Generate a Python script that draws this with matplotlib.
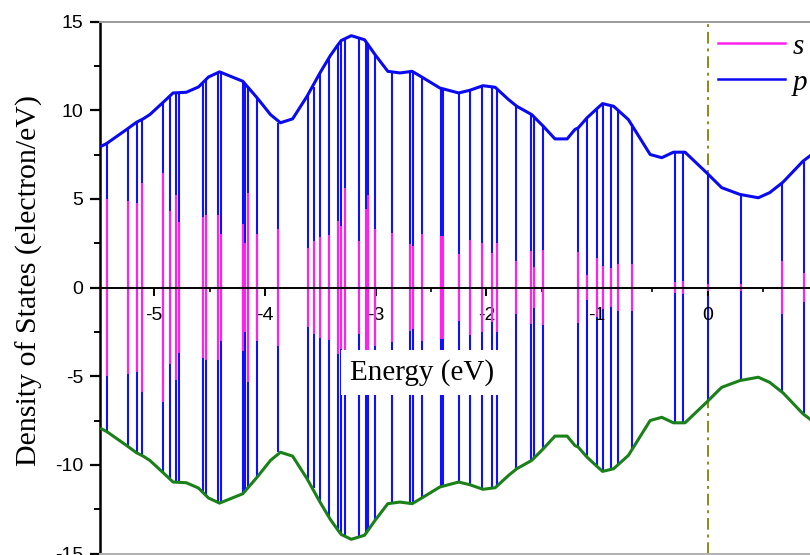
import matplotlib
matplotlib.use("Agg")

import numpy as np
import matplotlib.pyplot as plt
from matplotlib.ticker import MultipleLocator, FixedLocator
from matplotlib.lines import Line2D

# Smoothed p envelope (upper); the lower curve is its mirror
env_e = [-5.477, -5.43, -5.25, -5.16, -5.10, -5.04, -4.92, -4.83, -4.71, -4.60,
         -4.51, -4.41, -4.20, -4.07, -3.95, -3.86, -3.75, -3.62, -3.50, -3.41,
         -3.34, -3.31, -3.22, -3.10, -3.005, -2.89, -2.78, -2.67, -2.57, -2.42,
         -2.25, -2.15, -2.03, -1.92, -1.80, -1.725, -1.59, -1.485, -1.38, -1.27,
         -1.20, -1.17, -1.09, -1.00, -0.95, -0.85, -0.717, -0.52, -0.415, -0.31,
         -0.205, -0.01, 0.126, 0.29, 0.457, 0.56, 0.68, 0.86, 0.93]
env_p = [7.97, 8.12, 8.91, 9.32, 9.51, 9.75, 10.44, 10.97, 11.01, 11.31,
         11.87, 12.16, 11.63, 10.69, 9.75, 9.29, 9.51, 10.78, 12.13, 13.07,
         13.69, 13.93, 14.20, 13.97, 13.13, 12.19, 12.10, 12.19, 11.82, 11.25,
         10.97, 11.12, 11.38, 11.29, 10.60, 10.22, 9.75, 9.09, 8.38, 8.38,
         8.91, 9.00, 9.57, 10.09, 10.37, 10.22, 9.47, 7.50, 7.32, 7.63,
         7.63, 6.47, 5.63, 5.25, 5.06, 5.35, 5.94, 7.12, 7.45]

# Discrete levels: energy, p height, s height
stem_e = [-5.43, -5.24, -5.16, -5.11, -4.92, -4.86, -4.80, -4.78, -4.56, -4.53,
          -4.42, -4.40, -4.20, -4.18, -4.15, -4.07, -3.88, -3.61, -3.56, -3.50,
          -3.42, -3.34, -3.31, -3.28, -3.15, -3.09, -3.07, -3.005, -2.85, -2.69,
          -2.66, -2.58, -2.41, -2.39, -2.25, -2.15, -2.04, -1.95, -1.90, -1.73,
          -1.60, -1.57, -1.49, -1.17, -1.09, -1.00, -0.95, -0.87, -0.81, -0.68,
          -0.295, -0.22, 0.0, 0.30, 0.67, 0.87]
stem_p = [8.12, 8.95, 9.32, 9.51, 10.44, 10.75, 11.0, 11.0, 11.5, 11.75,
          12.16, 12.16, 11.63, 11.5, 11.3, 10.69, 9.29, 10.8, 11.3, 12.13,
          13.0, 13.69, 13.93, 14.05, 14.15, 13.9, 13.75, 13.13, 12.15, 12.15,
          12.15, 11.85, 11.22, 11.15, 10.97, 11.12, 11.36, 11.33, 11.2, 10.25,
          9.75, 9.6, 9.1, 9.0, 9.57, 10.09, 10.37, 10.25, 10.0, 9.2,
          7.63, 7.63, 6.45, 5.25, 5.9, 7.1]
stem_s = [5.01, 4.87, 4.74, 5.91, 6.47, 4.31, 5.21, 3.69, 4.00, 4.07,
          4.07, 3.04, 3.56, 2.53, 5.31, 3.04, 3.28, 2.25, 2.62, 2.87,
          2.94, 3.75, 3.47, 5.63, 2.62, 4.41, 5.21, 3.28, 3.10, 2.44,
          2.34, 3.00, 2.90, 2.90, 1.87, 2.68, 2.49, 1.97, 2.49, 1.50,
          2.06, 1.13, 2.12, 2.00, 0.69, 1.69, 1.22, 1.09, 1.31, 1.31,
          0.32, 0.37, 0.2, 0.2, 1.5, 0.8]

x_ticks = [-5, -4, -3, -2, -1, 0]
y_ticks = [-15, -10, -5, 0, 5, 10, 15]

plt.rcParams['axes.unicode_minus'] = False
serif = 'Liberation Serif'
sans = 'Liberation Sans'

fig = plt.figure(figsize=(8.1, 5.55), dpi=100)
ax = fig.add_axes([100/810, 1.5/555, 710/810, 532/555])

stem_e = np.array(stem_e)
stem_p = np.array(stem_p)
stem_s = np.array(stem_s)
env_p = np.array(env_p)

ax.vlines(stem_e, -stem_p, stem_p, color='#1010ff', lw=1.5, zorder=1.5)
ax.vlines(stem_e, -stem_s, stem_s, color='#ff22ee', lw=1.5, zorder=1.6)
ax.plot(env_e, env_p, color='#0a0af0', lw=2.2, zorder=3, solid_joinstyle='round')
ax.plot(env_e, -env_p, color='#1a8018', lw=2.2, zorder=3, solid_joinstyle='round')

ax.axvline(0, color='#8c8a14', lw=1.4, ls=(0, (6, 2.5, 1.5, 2.5)), zorder=1.4)

ax.set_xlim(-5.49, 0.924)
ax.set_ylim(-15, 15)

# spines
ax.spines['bottom'].set_position(('data', 0))
ax.spines['bottom'].set_linewidth(1.4)
ax.spines['left'].set_linewidth(1.8)
ax.spines['top'].set_color('#9a9a9a')
ax.spines['top'].set_linewidth(1.4)
ax.spines['right'].set_visible(False)
ax.axhline(-15, color='#b0b0b0', lw=1.4, clip_on=False, zorder=5)

ax.xaxis.set_major_locator(FixedLocator(x_ticks))
ax.xaxis.set_minor_locator(MultipleLocator(0.5))
ax.yaxis.set_major_locator(FixedLocator(y_ticks))
ax.yaxis.set_minor_locator(MultipleLocator(2.5))
ax.set_xticklabels([str(t) for t in x_ticks], fontfamily=sans, fontsize=14)
ax.set_yticklabels([str(t) for t in y_ticks], fontfamily=sans, fontsize=14)
ax.tick_params(axis='x', which='major', direction='out', length=6, width=1.4, pad=8)
ax.tick_params(axis='x', which='minor', direction='out', length=3, width=1.2)
ax.tick_params(axis='y', which='major', direction='out', length=7, width=1.6, pad=5)
ax.tick_params(axis='y', which='minor', direction='out', length=4, width=1.4)
ax.tick_params(top=False, right=False, which='both')

ax.text(-2.58, -4.8, 'Energy (eV)', fontfamily=serif, fontsize=21,
        ha='center', va='center', zorder=4,
        bbox=dict(boxstyle='square,pad=0.3', fc='white', ec='none'))
fig.text(29.5/810, 0.495, 'Density of States (electron/eV)', fontfamily=serif,
         fontsize=21.5, rotation=90, ha='center', va='center')

handles = [Line2D([], [], color='#ff22ee', lw=1.8),
           Line2D([], [], color='#0a0af0', lw=1.8)]
leg = ax.legend(handles, ['s', 'p'], loc='upper left', bbox_to_anchor=(0.854, 1.0),
                frameon=False, handlelength=2.3, handletextpad=0.25,
                labelspacing=0.33, borderaxespad=0,
                prop={'family': serif, 'style': 'italic', 'size': 21})

fig.savefig('out.png', dpi=100)
